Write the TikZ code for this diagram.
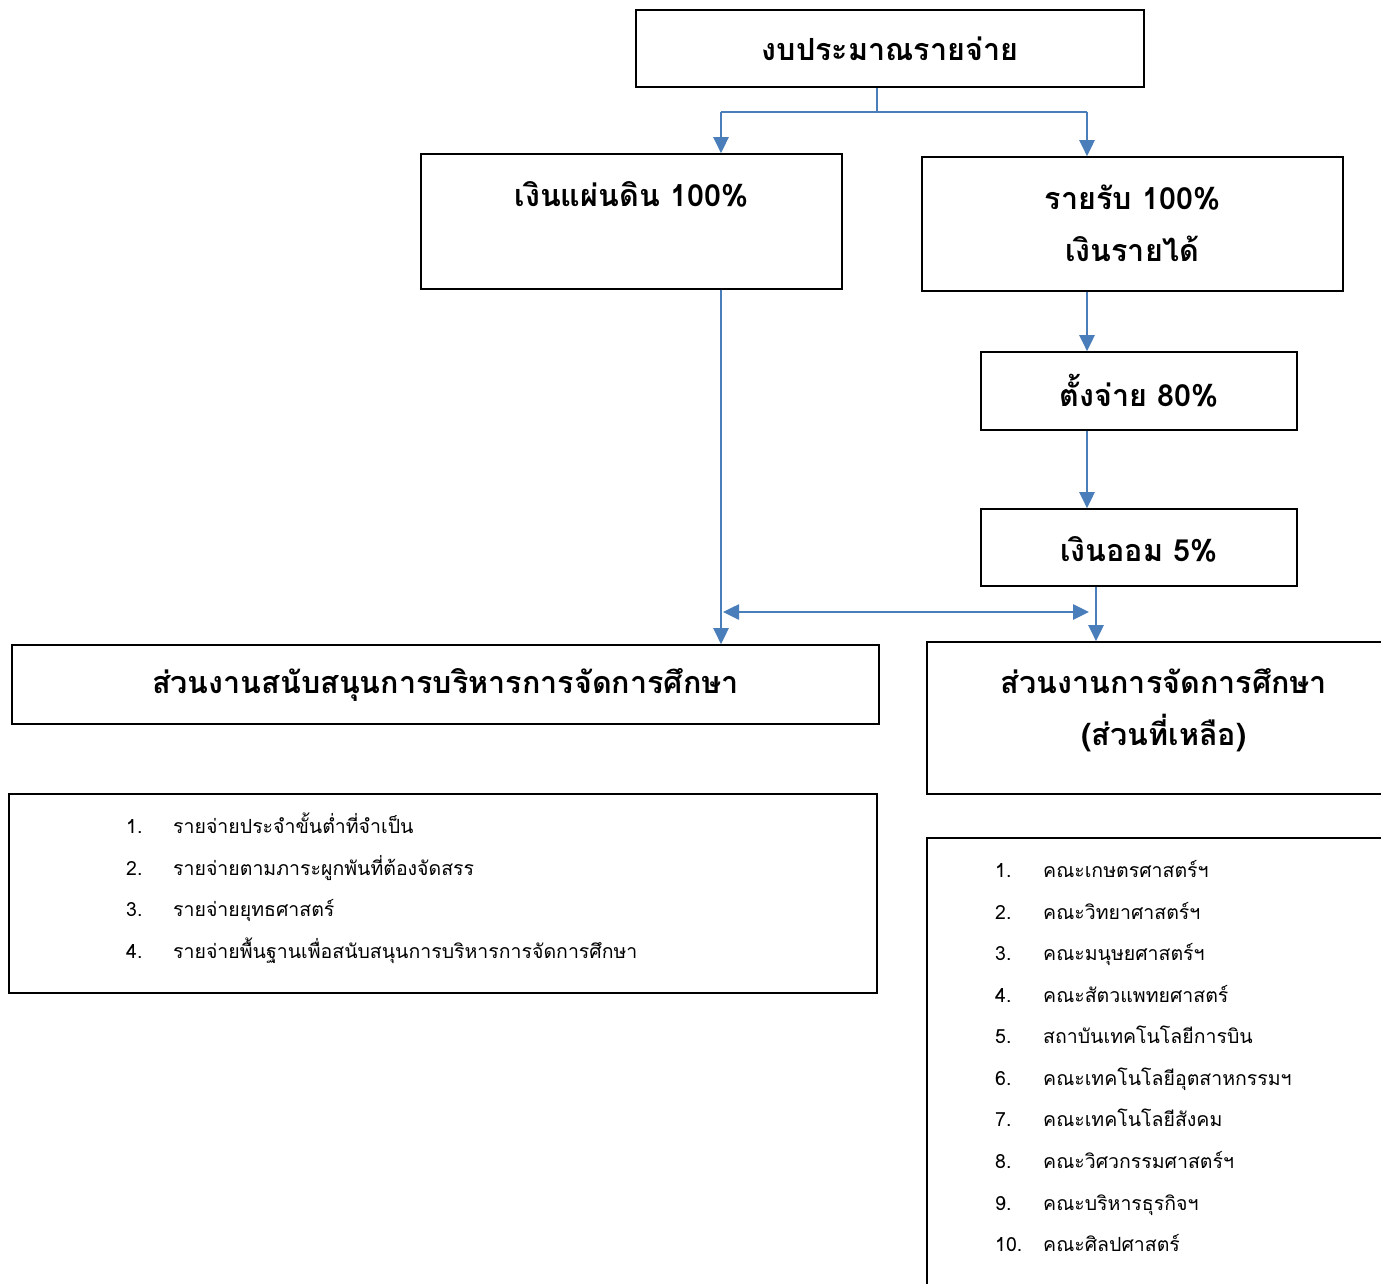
\documentclass[tikz,border=0pt]{standalone}
\usepackage{fontspec}
\newfontfamily\thai[Script=Thai]{Loma}
\usetikzlibrary{arrows.meta}
\definecolor{conn}{HTML}{4A7EBB}
\tikzset{
  box/.style={draw=black, line width=1.6pt, rectangle, inner sep=0pt},
  head/.style={font=\thai\bfseries\fontsize{30.5}{36}\selectfont, text=black, inner sep=0pt, align=center},
  item/.style={font=\thai\fontsize{19.5}{22}\selectfont, anchor=base west, inner sep=0pt},
  arr/.style={draw=conn, line width=2.6pt, -{Triangle[width=15pt,length=16pt]}},
  darr/.style={draw=conn, line width=2.6pt, {Triangle[width=15pt,length=16pt]}-{Triangle[width=15pt,length=16pt]}},
  link/.style={draw=conn, line width=1.8pt}
}
\begin{document}
\begin{tikzpicture}[x=1pt,y=-1pt]
\useasboundingbox (0,0) rectangle (1381,1284);
\clip (0,0) rectangle (1381,1284);
% boxes
\node[box, minimum width=508pt, minimum height=77pt] (top) at (890,48.5) {};
\node[head] (topt) at (890,49) {งบประมาณรายจ่าย};
\node[box, minimum width=421pt, minimum height=135pt] (left) at (631.5,221.5) {};
\node[head] (leftt) at (631.5,194) {เงินแผ่นดิน 100\%};
\node[box, minimum width=421pt, minimum height=134pt] (right) at (1132.5,224) {};
\node[head] (rightt) at (1132.5,223) {รายรับ 100\%\\[16pt]เงินรายได้};
\node[box, minimum width=316pt, minimum height=78pt] (set) at (1139,391) {};
\node[head] (sett) at (1139,391) {ตั้งจ่าย 80\%};
\node[box, minimum width=316pt, minimum height=77pt] (save) at (1139,547.5) {};
\node[head] (savet) at (1139,549) {เงินออม 5\%};
\node[box, minimum width=867pt, minimum height=79pt] (sup) at (445.5,684.5) {};
\node[head] (supt) at (445.5,685) {ส่วนงานสนับสนุนการบริหารการจัดการศึกษา};
\node[box, minimum width=480pt, minimum height=152pt] (edu) at (1167,718) {};
\node[head] (edut) at (1164,710) {ส่วนงานการจัดการศึกษา\\[16pt](ส่วนที่เหลือ)};
\node[box, minimum width=868pt, minimum height=199pt] (list1) at (443,893.5) {};
\node[box, minimum width=480pt, minimum height=480pt] (list2) at (1167,1078) {};
% left list
\foreach \n/\t/\y in {1/รายจ่ายประจำขั้นต่ำที่จำเป็น/833,2/รายจ่ายตามภาระผูกพันที่ต้องจัดสรร/875,3/รายจ่ายยุทธศาสตร์/916,4/รายจ่ายพื้นฐานเพื่อสนับสนุนการบริหารการจัดการศึกษา/958}{
  \node[item] (ln\n) at (126,\y) {\n.};
  \node[item] (lt\n) at (173,\y) {\t};
}
% right list
\foreach \n/\t/\y in {1/คณะเกษตรศาสตร์ฯ/877,2/คณะวิทยาศาสตร์ฯ/919,3/คณะมนุษยศาสตร์ฯ/960,4/คณะสัตวแพทยศาสตร์/1002,5/สถาบันเทคโนโลยีการบิน/1043,6/คณะเทคโนโลยีอุตสาหกรรมฯ/1085,7/คณะเทคโนโลยีสังคม/1126,8/คณะวิศวกรรมศาสตร์ฯ/1168,9/คณะบริหารธุรกิจฯ/1210,10/คณะศิลปศาสตร์/1251}{
  \node[item] (rn\n) at (995,\y) {\n.};
  \node[item] (rt\n) at (1043,\y) {\t};
}
% connectors
\coordinate (j) at (877,112);
\coordinate (jl) at (721,112);
\coordinate (jr) at (1087,112);
\draw[link] (top.south -| j) -- (j);
\draw[link] (jl) -- (jr);
\draw[arr] (jl) -- (jl |- left.north);
\draw[arr] (jr) -- (jr |- right.north);
\draw[arr] (right.south -| jr) -- (set.north -| jr);
\draw[arr] (set.south -| jr) -- (save.north -| jr);
\draw[arr] (left.south -| jl) -- (sup.north -| jl);
\coordinate (je) at (1096,0);
\draw[arr] (save.south -| je) -- (edu.north -| je);
\coordinate (da) at (723,612);
\coordinate (db) at (1089,612);
\draw[darr] (da) -- (db);
\end{tikzpicture}
\end{document}
